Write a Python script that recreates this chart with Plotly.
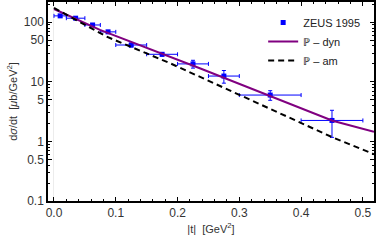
import plotly.graph_objects as go

# ZEUS 1995 data
t_data = [0.01, 0.035, 0.0625, 0.0875, 0.125, 0.175, 0.225, 0.275, 0.35, 0.45]
t_halfwidth = [0.01, 0.015, 0.0125, 0.0125, 0.025, 0.025, 0.025, 0.025, 0.05, 0.05]
dsdt = [128, 117, 90, 69, 41.5, 29, 20, 12.5, 6.0, 2.25]
dsdt_err = [7, 6, 5, 4, 3, 2, 3, 3, 1.1, 1.08]

# P - dyn curve
t_dyn = [0.0, 0.0744, 0.236, 0.451, 0.518]
y_dyn = [167, 74.3, 16.9, 2.22, 1.45]

# P - am curve
t_am = [0.0, 0.0853, 0.188, 0.451, 0.518]
y_am = [174, 57.3, 20.5, 1.17, 0.61]

y_major = [0.1, 0.5, 1, 5, 10, 50, 100]
y_major_text = ["0.1", "0.5", "1", "5", "10", "50", "100"]
y_minor = [0.2, 0.3, 0.4, 0.6, 0.7, 0.8, 0.9, 2, 3, 4, 6, 7, 8, 9,
           20, 30, 40, 60, 70, 80, 90, 200]
x_major = [0.0, 0.1, 0.2, 0.3, 0.4, 0.5]
x_major_text = ["0.0", "0.1", "0.2", "0.3", "0.4", "0.5"]

FONT = "Liberation Sans, Arial, sans-serif"

fig = go.Figure()
fig.add_trace(go.Scatter(
    x=t_data, y=dsdt, mode="markers", name="ZEUS 1995",
    marker=dict(symbol="square", size=5, color="#0000ff"),
    error_x=dict(type="data", array=t_halfwidth, color="#0000ff", thickness=1, width=2),
    error_y=dict(type="data", array=dsdt_err, color="#0000ff", thickness=1, width=2),
))
fig.add_trace(go.Scatter(
    x=t_dyn, y=y_dyn, mode="lines", name="ℙ – dyn",
    line=dict(color="#800080", width=2),
))
fig.add_trace(go.Scatter(
    x=t_am, y=y_am, mode="lines", name="ℙ – am",
    line=dict(color="#000000", width=2, dash="6px,4px"),
))

fig.update_layout(
    width=377, height=242,
    margin=dict(l=48, r=3, t=2, b=41),
    paper_bgcolor="white", plot_bgcolor="white",
    font=dict(family=FONT, size=12, color="#333"),
    showlegend=True,
    legend=dict(x=0.66, y=0.97, xanchor="left", yanchor="top",
                bgcolor="rgba(0,0,0,0)", font=dict(size=11, color="#222"),
                itemwidth=30, tracegroupgap=0),
)
fig.update_xaxes(
    range=[-0.0097, 0.518], showgrid=False, automargin=False,
    tickmode="array", tickvals=x_major, ticktext=x_major_text,
    ticks="inside", ticklen=4, tickcolor="black", tickwidth=1,
    tickfont=dict(size=12, color="#333"),
    minor=dict(tickmode="linear", tick0=0, dtick=0.02, ticks="inside", ticklen=2, tickcolor="black", showgrid=False),
    showline=True, linecolor="black", linewidth=1.5, mirror="allticks",
    zeroline=True, zerolinecolor="#ececec", zerolinewidth=1,
    title=dict(text="|t|  [GeV<sup>2</sup>]", font=dict(size=11, color="#333"), standoff=6),
)
fig.update_yaxes(
    type="log", range=[-1, 2.34], showgrid=False, automargin=False,
    tickmode="array", tickvals=y_major, ticktext=y_major_text,
    ticks="inside", ticklen=4, tickcolor="black", tickwidth=1,
    tickfont=dict(size=12, color="#333"),
    minor=dict(tickmode="array", tickvals=y_minor, ticks="inside", ticklen=2, tickcolor="black", showgrid=False),
    showline=True, linecolor="black", linewidth=1.5, mirror="allticks",
    zeroline=False,
    title=dict(text="d<i>σ</i>/dt  [<i>μ</i>b/GeV<sup>2</sup>]", font=dict(size=11, color="#333"), standoff=4),
)

fig.write_html("out.html", config={"displayModeBar": False},
               post_script="document.body.style.margin='0';document.body.style.padding='0';")
